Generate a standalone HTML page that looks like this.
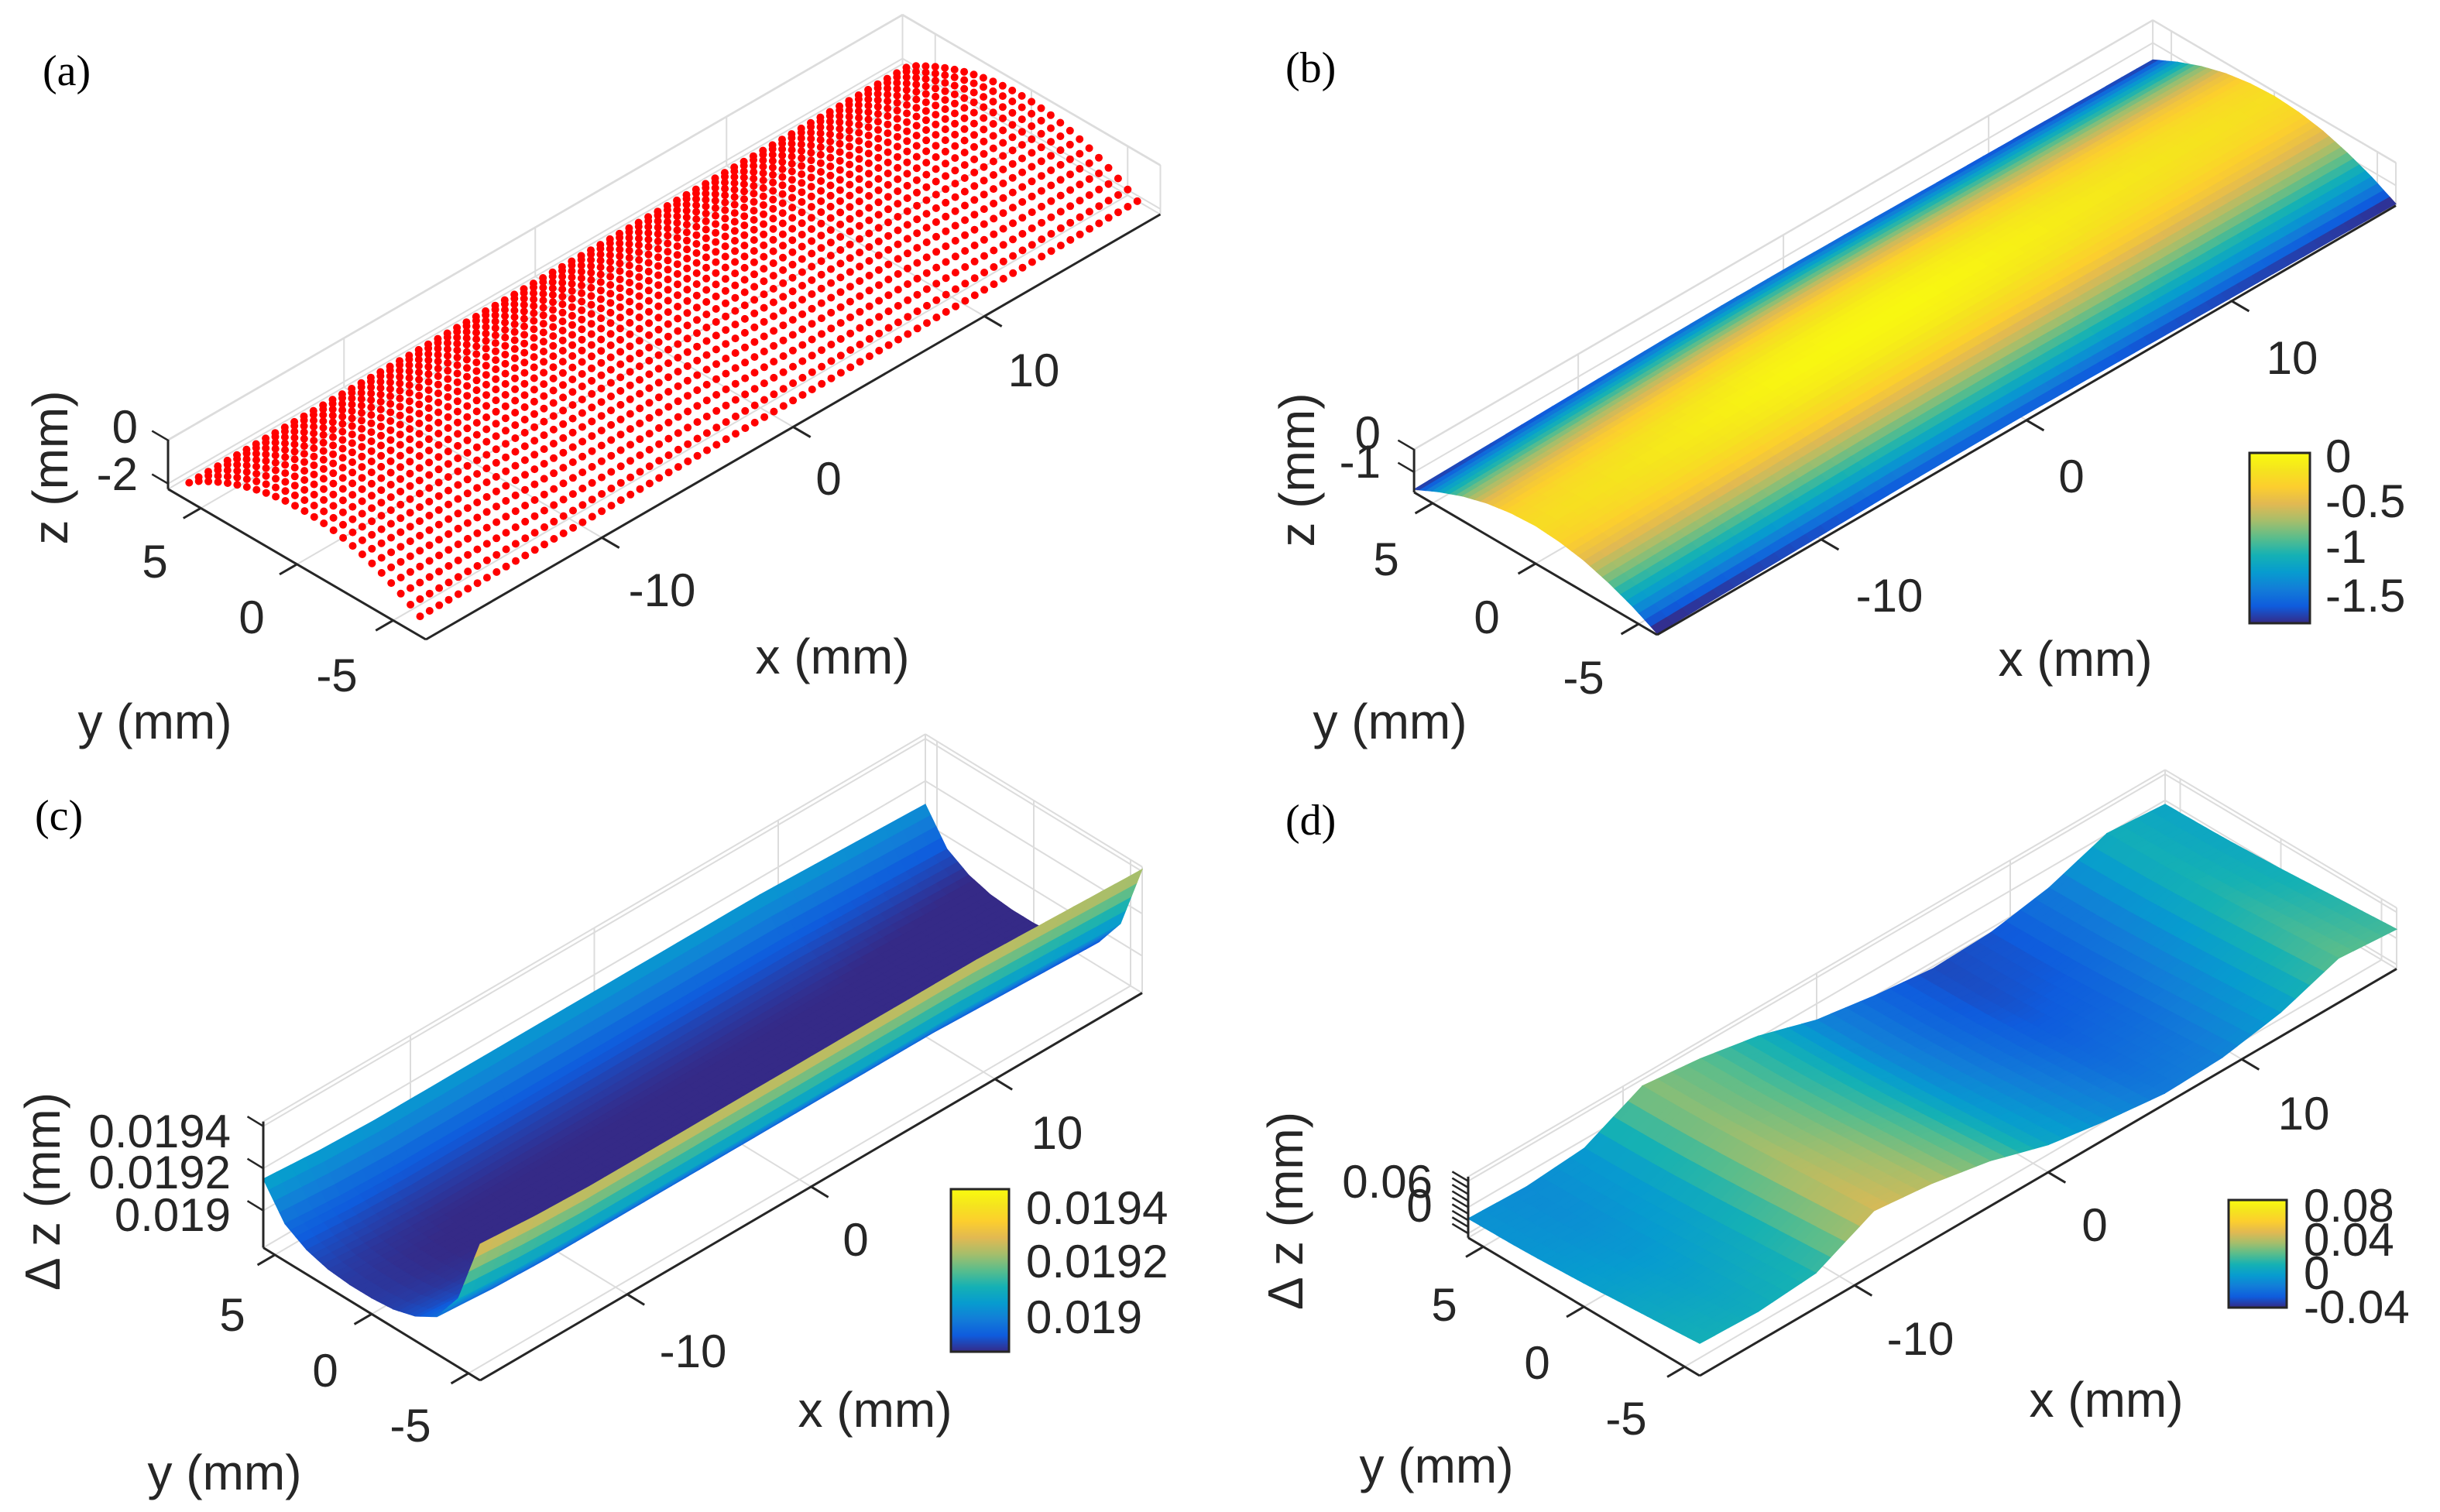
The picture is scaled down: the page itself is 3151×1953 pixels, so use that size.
<!DOCTYPE html>
<html><head><meta charset="utf-8"><style>
html,body{margin:0;padding:0;background:#fff;}
svg{display:block;}
text{font-family:"Liberation Sans",sans-serif;fill:#262626;}
.ser{font-family:"Liberation Serif",serif;fill:#000;}
</style></head><body>
<svg id="fig" xmlns="http://www.w3.org/2000/svg" width="3151" height="1953" viewBox="0 0 3151 1953">
<rect width="3151" height="1953" fill="#fff"/>
<defs>
<linearGradient id="parula" x1="0" y1="1" x2="0" y2="0">
<stop offset="0" stop-color="rgb(53,42,135)"/><stop offset="0.1" stop-color="rgb(15,92,221)"/>
<stop offset="0.2" stop-color="rgb(18,125,216)"/><stop offset="0.3" stop-color="rgb(7,156,207)"/>
<stop offset="0.4" stop-color="rgb(21,177,180)"/><stop offset="0.5" stop-color="rgb(89,189,140)"/>
<stop offset="0.6" stop-color="rgb(165,190,107)"/><stop offset="0.7" stop-color="rgb(225,185,82)"/>
<stop offset="0.8" stop-color="rgb(252,206,46)"/><stop offset="0.9" stop-color="rgb(245,228,30)"/>
<stop offset="1" stop-color="rgb(249,251,14)"/>
</linearGradient>
</defs>
<g id="layer"></g>

<text class="ser" x="55" y="110" font-size="56">(a)</text>
<text class="ser" x="1660" y="106" font-size="56">(b)</text>
<text class="ser" x="45" y="1072" font-size="56">(c)</text>
<text class="ser" x="1660" y="1078" font-size="56">(d)</text>

<g font-size="60">
<text x="178" y="572" text-anchor="end">0</text>
<text x="178" y="633" text-anchor="end">-2</text>
<text x="200" y="746" text-anchor="middle">5</text>
<text x="325" y="818" text-anchor="middle">0</text>
<text x="435" y="893" text-anchor="middle">-5</text>
<text x="855" y="783" text-anchor="middle">-10</text>
<text x="1070" y="639" text-anchor="middle">0</text>
<text x="1335" y="499" text-anchor="middle">10</text>
<text x="1075" y="870" text-anchor="middle" font-size="64">x (mm)</text>
<text x="200" y="954" text-anchor="middle" font-size="64">y (mm)</text>
<text transform="translate(87,604) rotate(-90)" text-anchor="middle" font-size="64">z (mm)</text>
</g>

<g font-size="60">
<text x="1783" y="580" text-anchor="end">0</text>
<text x="1783" y="617" text-anchor="end">-1</text>
<text x="1790" y="743" text-anchor="middle">5</text>
<text x="1920" y="818" text-anchor="middle">0</text>
<text x="2045" y="896" text-anchor="middle">-5</text>
<text x="2440" y="790" text-anchor="middle">-10</text>
<text x="2675" y="636" text-anchor="middle">0</text>
<text x="2960" y="483" text-anchor="middle">10</text>
<text x="2680" y="873" text-anchor="middle" font-size="64">x (mm)</text>
<text x="1795" y="954" text-anchor="middle" font-size="64">y (mm)</text>
<text transform="translate(1697,607) rotate(-90)" text-anchor="middle" font-size="64">z (mm)</text>
<text x="3003" y="610">0</text>
<text x="3003" y="668">-0.5</text>
<text x="3003" y="727">-1</text>
<text x="3003" y="790">-1.5</text>
</g>

<g font-size="60">
<text x="298" y="1482" text-anchor="end">0.0194</text>
<text x="298" y="1535" text-anchor="end">0.0192</text>
<text x="298" y="1590" text-anchor="end">0.019</text>
<text x="300" y="1719" text-anchor="middle">5</text>
<text x="420" y="1791" text-anchor="middle">0</text>
<text x="530" y="1862" text-anchor="middle">-5</text>
<text x="895" y="1766" text-anchor="middle">-10</text>
<text x="1105" y="1622" text-anchor="middle">0</text>
<text x="1365" y="1484" text-anchor="middle">10</text>
<text x="1130" y="1843" text-anchor="middle" font-size="64">x (mm)</text>
<text x="290" y="1924" text-anchor="middle" font-size="64">y (mm)</text>
<text transform="translate(77,1539) rotate(-90)" text-anchor="middle" font-size="64">Δ z (mm)</text>
<text x="1325" y="1581">0.0194</text>
<text x="1325" y="1650">0.0192</text>
<text x="1325" y="1722">0.019</text>
</g>

<g font-size="60">
<text x="1850" y="1547" text-anchor="end">0.06</text>
<text x="1833" y="1578" text-anchor="middle">0</text>
<text x="1865" y="1706" text-anchor="middle">5</text>
<text x="1985" y="1781" text-anchor="middle">0</text>
<text x="2100" y="1853" text-anchor="middle">-5</text>
<text x="2480" y="1750" text-anchor="middle">-10</text>
<text x="2705" y="1603" text-anchor="middle">0</text>
<text x="2975" y="1459" text-anchor="middle">10</text>
<text x="2720" y="1830" text-anchor="middle" font-size="64">x (mm)</text>
<text x="1855" y="1915" text-anchor="middle" font-size="64">y (mm)</text>
<text transform="translate(1682,1564) rotate(-90)" text-anchor="middle" font-size="64">Δ z (mm)</text>
<text x="2975" y="1578">0.08</text>
<text x="2975" y="1622">0.04</text>
<text x="2975" y="1665">0</text>
<text x="2975" y="1709">-0.04</text>
</g>

<rect x="2905" y="585" width="78" height="220" fill="url(#parula)" stroke="#262626" stroke-width="3"/>
<rect x="1228" y="1536" width="75" height="210" fill="url(#parula)" stroke="#262626" stroke-width="3"/>
<rect x="2878" y="1550" width="75" height="139" fill="url(#parula)" stroke="#262626" stroke-width="3"/>
</svg>
<script>
// ---------- data ----------
const ysA = [-6,-5.5,-5,-4.5,-4,-3.5,-3,-2.5,-2,-1.5,-1,-0.5,0,0.5,1,1.5,2,2.5,3,3.5,4,4.5,5,5.5,6];
const zsA = [-1.75,-1.47,-1.22,-0.99,-0.78,-0.6,-0.44,-0.31,-0.2,-0.11,-0.05,-0.01,0,-0.01,-0.05,-0.11,-0.2,-0.31,-0.44,-0.6,-0.78,-0.99,-1.22,-1.47,-1.8];
const xStartA = -18.8, xStepA = 0.5, xCountA = 76;
const xsGrid = [-18,-15,-12,-9,-6,-3,0,3,6,9,12,15,18];
const ysB = [-5.9,-4.72,-3.54,-2.36,-1.18,0,1.18,2.36,3.54,4.72,5.9];
const zyB = [-1.62,-1.06,-0.62,-0.28,-0.08,0,-0.07,-0.26,-0.58,-1.02,-1.55];
const zxB = [-0.22,-0.17,-0.12,-0.07,-0.02,0,0,-0.03,-0.07,-0.11,-0.14,-0.17,-0.2];
const ysC = [-5.6,-4.48,-3.36,-2.24,-1.12,0,1.12,2.24,3.36,4.48,5.6];
const zyC = [0.01944,0.01912,0.01897,0.01891,0.01888,0.01887,0.01887,0.01888,0.01891,0.01897,0.01912];
const zxC = [0.00003,0.00001,0,0,0,0,0,0,0,0,-0.00001,-0.00002,-0.00003];
const ysD = [-5.75,-4.6,-3.45,-2.3,-1.15,0,1.15,2.3,3.45,4.6,5.75];
const zyD = [0.03,0.026,0.022,0.018,0.014,0.01,0.007,0.004,0.002,0.001,0];
const zxD = [-0.026,-0.031,-0.02,0.045,0.03,0.004,-0.037,-0.059,-0.075,-0.07,-0.045,0.002,-0.009];

const xTicks = [-10,0,10];
const yTicks = [-5,0,5];
const zTicksA = [-2,0];
const zTicksB = [-1,0];
const zTicksC = [0.019,0.0192,0.0194];
const zTicksD = [-0.06,-0.045,-0.03,-0.015,0,0.015,0.03,0.045,0.06];

const PA = {C:[550,826], ex:[24.7,-14.3], ey:[-24.85,-14.5], ez:-28, xr:[-19.2,19.2], yr:[-6.7,6.7], zr:[-2.25,0.03]};
const PB = {C:[2140,820], ex:[26.5,-15.4], ey:[-26.6,-15.6], ez:-29, xr:[-18,18], yr:[-5.9,5.9], zr:[-1.9,0.02]};
const PC = {C:[620,1783], ex:[23.75,-13.9], ey:[-25,-15.3], ez:-272500, xr:[-18,18], yr:[-5.6,5.6], zr:[0.018824,0.019422]};
const PD = {C:[2195,1777], ex:[25,-14.6], ey:[-26,-15.5], ez:-563, xr:[-18,18], yr:[-5.75,5.75], zr:[-0.07,0.07]};

const NS = 'http://www.w3.org/2000/svg';
const layer = document.getElementById('layer');

function proj(P,x,y,z){
  const dx=x-P.xr[0], dy=y-P.yr[0], dz=z-P.zr[0];
  return [P.C[0]+dx*P.ex[0]+dy*P.ey[0], P.C[1]+dx*P.ex[1]+dy*P.ey[1]+dz*P.ez];
}
const PAR = [[53,42,135],[15,92,221],[18,125,216],[7,156,207],[21,177,180],[89,189,140],[165,190,107],[225,185,82],[252,206,46],[245,228,30],[249,251,14]];
function parula(t){
  t=Math.max(0,Math.min(1,t))*10; const i=Math.min(9,Math.floor(t)), f=t-i;
  const a=PAR[i], b=PAR[i+1];
  return 'rgb('+[0,1,2].map(k=>Math.round(a[k]+(b[k]-a[k])*f)).join(',')+')';
}
function line(g,p,q,color,w,name){
  const el=document.createElementNS(NS,'line');
  el.setAttribute('x1',p[0]);el.setAttribute('y1',p[1]);el.setAttribute('x2',q[0]);el.setAttribute('y2',q[1]);
  el.setAttribute('stroke',color);el.setAttribute('stroke-width',w);
  
  
  g.appendChild(el);
}
function unit(v,len){const l=Math.hypot(v[0],v[1]);return [v[0]/l*len,v[1]/l*len];}

function drawAxes(P,zt,name){
  const g=document.createElementNS(NS,'g');
  
  
  layer.appendChild(g);
  const [x0,x1]=P.xr,[y0,y1]=P.yr,[z0,z1]=P.zr, gc='#dcdcdc', gw=2;
  xTicks.forEach(x=>line(g,proj(P,x,y1,z0),proj(P,x,y1,z1),gc,gw,'grid-back-x'));
  zt.forEach(z=>line(g,proj(P,x0,y1,z),proj(P,x1,y1,z),gc,gw,'grid-back-z'));
  line(g,proj(P,x0,y1,z1),proj(P,x1,y1,z1),gc,gw,'box-edge');
  line(g,proj(P,x1,y1,z0),proj(P,x1,y1,z1),gc,gw,'box-edge');
  yTicks.forEach(y=>line(g,proj(P,x1,y,z0),proj(P,x1,y,z1),gc,gw,'grid-side-y'));
  zt.forEach(z=>line(g,proj(P,x1,y0,z),proj(P,x1,y1,z),gc,gw,'grid-side-z'));
  line(g,proj(P,x1,y0,z1),proj(P,x1,y1,z1),gc,gw,'box-edge');
  line(g,proj(P,x1,y0,z0),proj(P,x1,y0,z1),gc,gw,'box-edge');
  xTicks.forEach(x=>line(g,proj(P,x,y0,z0),proj(P,x,y1,z0),gc,gw,'grid-floor-x'));
  yTicks.forEach(y=>line(g,proj(P,x0,y,z0),proj(P,x1,y,z0),gc,gw,'grid-floor-y'));
  line(g,proj(P,x0,y1,z0),proj(P,x1,y1,z0),gc,gw,'box-edge');
  line(g,proj(P,x1,y0,z0),proj(P,x1,y1,z0),gc,gw,'box-edge');
}
function drawAxisLines(P,zt,name){
  const g=document.createElementNS(NS,'g');
  
  
  layer.appendChild(g);
  const [x0,x1]=P.xr,[y0,y1]=P.yr,[z0,z1]=P.zr, ac='#262626', aw=3;
  line(g,proj(P,x0,y0,z0),proj(P,x1,y0,z0),ac,aw,'x-axis');
  line(g,proj(P,x0,y0,z0),proj(P,x0,y1,z0),ac,aw,'y-axis');
  line(g,proj(P,x0,y1,z0),proj(P,x0,y1,z1),ac,aw,'z-axis');
  const tx=unit([-P.ey[0],-P.ey[1]],26), ty=unit([-P.ex[0],-P.ex[1]],26), tz=unit([P.ey[0],P.ey[1]],24);
  xTicks.forEach(x=>{const p=proj(P,x,y0,z0);line(g,p,[p[0]+tx[0],p[1]+tx[1]],ac,aw,'x-tick');});
  yTicks.forEach(y=>{const p=proj(P,x0,y,z0);line(g,p,[p[0]+ty[0],p[1]+ty[1]],ac,aw,'y-tick');});
  zt.forEach(z=>{const p=proj(P,x0,y1,z);line(g,p,[p[0]+tz[0],p[1]+tz[1]],ac,2.5,'z-tick');});
}
function lerpArr(a,t){const i=Math.min(a.length-2,Math.floor(t)),f=t-i;return a[i]+(a[i+1]-a[i])*f;}
function drawSurface(P,xs,ys,zx,zy,clim,name){
  const g=document.createElementNS(NS,'g');
  
  
  layer.appendChild(g);
  const S=4, nx=(xs.length-1)*S, ny=(ys.length-1)*S;
  const pt=(i,j)=>{const ti=i/S,tj=j/S;const x=lerpArr(xs,ti),y=lerpArr(ys,tj);const z=lerpArr(zx,ti)+lerpArr(zy,tj);return {x,y,z,p:proj(P,x,y,z)};};
  const quads=[];
  for(let i=0;i<nx;i++)for(let j=0;j<ny;j++){
    const a=pt(i,j),b=pt(i+1,j),c=pt(i+1,j+1),d=pt(i,j+1);
    const zc=(a.z+b.z+c.z+d.z)/4;
    const key=((a.x+c.x)/2-P.xr[0])*(-P.ex[1])+((a.y+c.y)/2-P.yr[0])*(-P.ey[1]);
    quads.push({pts:[a.p,b.p,c.p,d.p],zc,key});
  }
  quads.sort((u,v)=>v.key-u.key);
  quads.forEach(q=>{
    const el=document.createElementNS(NS,'polygon');
    el.setAttribute('points',q.pts.map(p=>p[0].toFixed(1)+','+p[1].toFixed(1)).join(' '));
    const col=parula((q.zc-clim[0])/(clim[1]-clim[0]));
    el.setAttribute('fill',col);el.setAttribute('stroke',col);el.setAttribute('stroke-width','1');
    
    
    g.appendChild(el);
  });
}
function drawDots(P){
  const g=document.createElementNS(NS,'g');
  
  
  layer.appendChild(g);
  for(let j=ysA.length-1;j>=0;j--){
    for(let i=xCountA-1;i>=0;i--){
      const x=xStartA+i*xStepA;
      const p=proj(P,x,ysA[j],zsA[j]);
      const c=document.createElementNS(NS,'circle');
      c.setAttribute('cx',p[0].toFixed(1));c.setAttribute('cy',p[1].toFixed(1));c.setAttribute('r','5');
      c.setAttribute('fill','#ff0000');
      
      
      g.appendChild(c);
    }
  }
}
drawAxes(PA,zTicksA,'panel-a');
drawDots(PA);
drawAxisLines(PA,zTicksA,'panel-a');
drawAxes(PB,zTicksB,'panel-b');
drawSurface(PB,xsGrid,ysB,zxB,zyB,[-1.78,0.02],'panel-b');
drawAxisLines(PB,zTicksB,'panel-b');
drawAxes(PC,zTicksC,'panel-c');
drawSurface(PC,xsGrid,ysC,zxC,zyC,[0.018874,0.0197],'panel-c');
drawAxisLines(PC,zTicksC,'panel-c');
drawAxes(PD,[-0.06,0,0.06],'panel-d');
drawSurface(PD,xsGrid,ysD,zxD,zyD,[-0.09,0.15],'panel-d');
drawAxisLines(PD,zTicksD,'panel-d');
</script>
</body></html>
